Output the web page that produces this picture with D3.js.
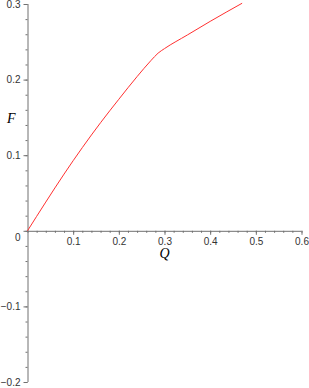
<!DOCTYPE html>
<html>
<head>
<meta charset="utf-8">
<script src="https://cdn.jsdelivr.net/npm/d3@7"></script>
<style>
body { margin: 0; background: #fff; }
svg { display: block; }
.axis path, .axis line { stroke: #707070; }
.axis text { font-family: "Liberation Sans", Arial, sans-serif; font-size: 10px; fill: #333; }
</style>
</head>
<body>
<svg id="chart"></svg>
<script>
var width = 309, height = 388;

// curve
var qVals = [0, 0.04, 0.08, 0.12, 0.16, 0.20, 0.24, 0.27, 0.286, 0.30, 0.35, 0.40, 0.47];
var fVals = [0, 0.038, 0.075, 0.110, 0.143, 0.174, 0.204, 0.225, 0.235, 0.241, 0.259, 0.277, 0.301];

var xTicks = [0.1, 0.2, 0.3, 0.4, 0.5, 0.6];
var xLabels = ["0.1", "0.2", "0.3", "0.4", "0.5", "0.6"];
var yTicks = [-0.2, -0.1, 0, 0.1, 0.2, 0.3];
var yLabels = ["\u22120.2", "\u22120.1", "0", "0.1", "0.2", "0.3"];

var svg = d3.select("#chart").attr("width", width).attr("height", height);

var xScale = d3.scaleLinear().domain([0, 0.6]).range([27.5, 301.5]);
var yScale = d3.scaleLinear().domain([-0.2, 0.3]).range([382, 4]);

var minorX = d3.range(0, 0.601, 0.02);
var minorY = d3.range(-0.2, 0.301, 0.02);

// minor ticks first
svg.append("g").attr("class", "axis")
	.attr("transform", "translate(0," + yScale(0) + ")")
	.call(d3.axisBottom(xScale).tickValues(minorX).tickSize(2).tickFormat(""))
	.select(".domain").remove();
svg.append("g").attr("class", "axis")
	.attr("transform", "translate(" + xScale(0) + ",0)")
	.call(d3.axisLeft(yScale).tickValues(minorY).tickSize(2).tickFormat(""))
	.select(".domain").remove();

var xAxis = svg.append("g").attr("class", "axis")
	.attr("transform", "translate(0," + yScale(0) + ")")
	.call(d3.axisBottom(xScale).tickValues(xTicks).tickSize(4).tickSizeOuter(0).tickPadding(3)
		.tickFormat(function(d, i){ return xLabels[i]; }));
xAxis.select(".domain").attr("d", "M" + xScale(0) + ",0.5H" + xScale(0.6));

var yAxis = svg.append("g").attr("class", "axis")
	.attr("transform", "translate(" + xScale(0) + ",0)")
	.call(d3.axisLeft(yScale).tickValues(yTicks).tickSize(4).tickSizeOuter(0).tickPadding(3)
		.tickFormat(function(d, i){ return yLabels[i]; }));
yAxis.select(".domain").attr("d", "M0.5," + yScale(-0.2) + "V" + yScale(0.3));
yAxis.selectAll(".tick text").filter(function(d){ return d == 0; }).attr("dy", "0.95em");

// axis titles
svg.append("text").attr("x", 7).attr("y", 123)
	.style("font-family", "'Liberation Serif', serif").style("font-style", "italic")
	.style("font-size", "14px").text("F");
svg.append("text").attr("x", xScale(0.3)).attr("y", 258).attr("text-anchor", "middle")
	.style("font-family", "'Liberation Serif', serif").style("font-style", "italic")
	.style("font-size", "14px").text("Q");

var data = qVals.map(function(q, i){ return {Q: q, F: fVals[i]}; });

var pathGenerator = d3.line()
	.x(function(d){ return xScale(d.Q); })
	.y(function(d){ return yScale(d.F); })
	.curve(d3.curveMonotoneX);

svg.append("path")
	.datum(data)
	.attr("d", pathGenerator)
	.style("stroke", "#ff3030")
	.style("stroke-width", 1)
	.style("fill", "none");
</script>
</body>
</html>
